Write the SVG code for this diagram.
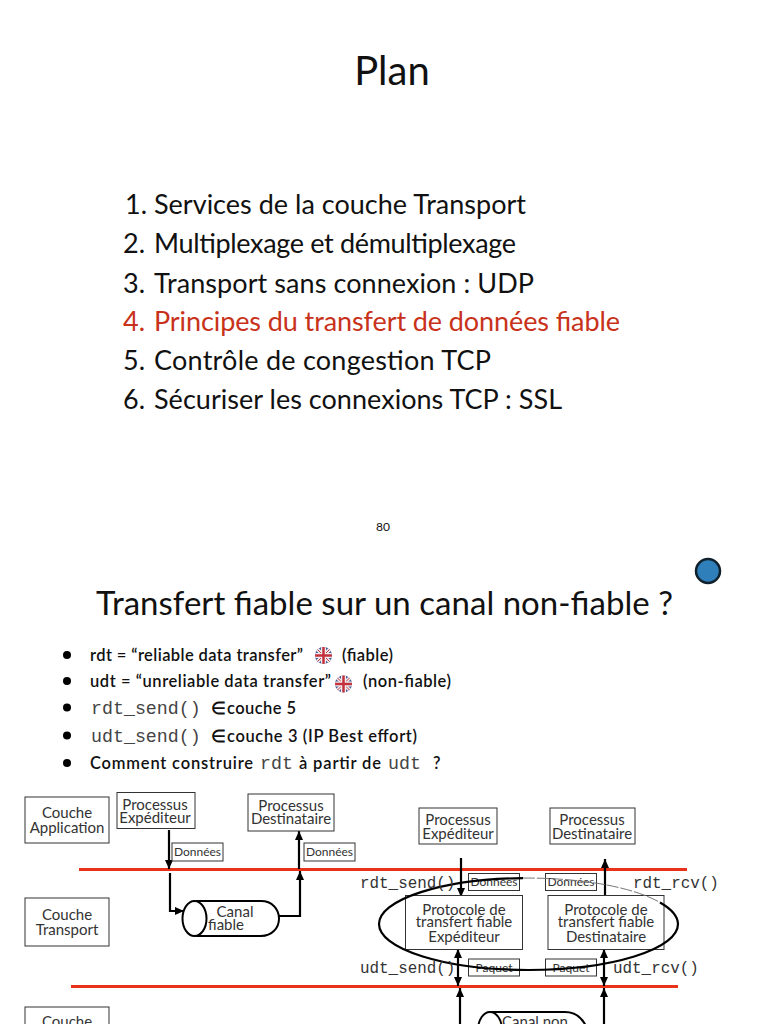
<svg xmlns="http://www.w3.org/2000/svg" width="768" height="1024" viewBox="0 0 768 1024">
<defs>
<marker id="ah" markerUnits="userSpaceOnUse" markerWidth="10" markerHeight="10" refX="9" refY="4.5" orient="auto"><path d="M0 0.500L9 4.500L0 8.500Z" fill="#000"/></marker>
<marker id="ahs" markerUnits="userSpaceOnUse" markerWidth="10" markerHeight="10" refX="0" refY="4.5" orient="auto"><path d="M9 0.500L0 4.500L9 8.500Z" fill="#000"/></marker>
<clipPath id="f1"><circle cx="323.500" cy="655.500" r="8.500"/></clipPath>
<clipPath id="f2"><circle cx="343.500" cy="684" r="8.500"/></clipPath>
<g id="jack"><rect x="-9" y="-9" width="18" height="18" fill="#4a5a92"/><path d="M-9 -9L9 9M9 -9L-9 9" stroke="#eee" stroke-width="3.500"/><path d="M-9 -9L9 9M9 -9L-9 9" stroke="#c4303c" stroke-width="1"/><path d="M-9 0H9M0 -9V9" stroke="#eee" stroke-width="5"/><path d="M-9 0H9M0 -9V9" stroke="#c4303c" stroke-width="2.500"/></g>
</defs>
<style>
text{font-family:"Lato","Open Sans","Liberation Sans",sans-serif;fill:#111}
.title{font-size:40px;text-anchor:middle}
.list{font-size:27px}
.bd{font-size:16.5px;font-weight:600}
.mono{font-family:"Liberation Mono",monospace;font-size:18.3px;fill:#444}
.monol{font-family:"Liberation Mono",monospace;font-size:15.9px;fill:#333}
.lb{font-size:15px;text-anchor:middle;fill:#333}
.sm{font-size:12px;text-anchor:middle;fill:#333}
.box{fill:#fff;stroke:#333;stroke-width:1}
.red{stroke:#e8321a;stroke-width:3;fill:none}
.ar{stroke:#000;stroke-width:2.200;fill:none}
.bu{fill:#000}
</style>
<rect width="768" height="1024" fill="#fff"/>
<text class="title" x="392" y="85">Plan</text>
<g class="list">
<text x="125" y="214">1.</text><text x="154" y="214" textLength="372">Services de la couche Transport</text>
<text x="123" y="253">2.</text><text x="154" y="253" textLength="362">Multiplexage et démultiplexage</text>
<text x="123" y="293">3.</text><text x="154" y="293" textLength="380">Transport sans connexion : UDP</text>
<text x="123" y="331" style="fill:#c8321a">4.</text><text x="154" y="331" style="fill:#c8321a" textLength="466">Principes du transfert de données fiable</text>
<text x="123" y="370">5.</text><text x="154" y="370" textLength="337">Contrôle de congestion TCP</text>
<text x="123" y="409">6.</text><text x="154" y="409" textLength="408">Sécuriser les connexions TCP : SSL</text>
</g>
<text x="383" y="531" font-size="12" text-anchor="middle">80</text>
<circle cx="708" cy="571" r="12" fill="#2f7fba" stroke="#10202c" stroke-width="2.500"/>
<text x="96" y="615" font-size="33" textLength="577">Transfert fiable sur un canal non-fiable ?</text>
<g>
<circle class="bu" cx="67" cy="655" r="4"/><circle class="bu" cx="67" cy="681" r="4"/><circle class="bu" cx="67" cy="707.500" r="4"/><circle class="bu" cx="67" cy="735.500" r="4"/><circle class="bu" cx="67" cy="763" r="4"/>
<text class="bd" x="90" y="661" textLength="213">rdt = “reliable data transfer”</text>
<g clip-path="url(#f1)"><use href="#jack" x="323.500" y="655.500"/></g>
<text class="bd" x="342" y="661" textLength="51">(fiable)</text>
<text class="bd" x="90" y="687" textLength="241">udt = “unreliable data transfer”</text>
<g clip-path="url(#f2)"><use href="#jack" x="343.500" y="684"/></g>
<text class="bd" x="363" y="687" textLength="88">(non-fiable)</text>
<text class="mono" x="91" y="714">rdt_send()</text><text class="bd" x="211" y="714">∈</text><text class="bd" x="227" y="714" textLength="69">couche 5</text>
<text class="mono" x="91" y="742">udt_send()</text><text class="bd" x="211" y="742">∈</text><text class="bd" x="227" y="742" textLength="190">couche 3 (IP Best effort)</text>
<text class="bd" x="90" y="769" textLength="163">Comment construire</text><text class="mono" x="260" y="769">rdt</text><text class="bd" x="299" y="769" textLength="82">à partir de</text><text class="mono" x="388" y="769">udt</text><text class="bd" x="433" y="769">?</text>
</g>
<g id="connectors">
<path class="red" d="M79 869.500H687"/>
<path class="red" d="M71 986.500H678"/>
<path class="ar" d="M169 830V869" marker-end="url(#ah)"/>
<path class="ar" d="M170 873V911H184" marker-end="url(#ah)"/>
<path class="ar" d="M299 869V831" marker-end="url(#ah)"/>
<path class="ar" d="M279 916H300V871" marker-end="url(#ah)"/>
<path class="ar" d="M461 858V897" marker-end="url(#ah)"/>
<path class="ar" d="M605 897V859" marker-end="url(#ah)"/>
<path class="ar" d="M458 949V986" marker-start="url(#ahs)" marker-end="url(#ah)"/>
<path class="ar" d="M604 949V986" marker-start="url(#ahs)" marker-end="url(#ah)"/>
<path class="ar" d="M460 1024V988" marker-end="url(#ah)"/>
<path class="ar" d="M604 1024V988" marker-end="url(#ah)"/>
</g>
<g id="couche-app"><rect class="box" x="25" y="797" width="84" height="46"/><text class="lb" x="67" y="818">Couche</text><text class="lb" x="67" y="833">Application</text></g>
<g id="couche-tr"><rect class="box" x="25" y="898" width="84" height="48"/><text class="lb" x="67" y="920">Couche</text><text class="lb" x="67" y="935">Transport</text></g>
<g id="couche-res"><rect class="box" x="25" y="1007" width="84" height="30"/><text class="lb" x="67" y="1027">Couche</text></g>
<g id="p-exp"><rect class="box" x="117" y="792.500" width="78" height="36"/><text class="lb" x="155" y="810">Processus</text><text class="lb" x="155" y="823">Expéditeur</text></g>
<g id="p-dest"><rect class="box" x="248" y="794" width="86" height="37"/><text class="lb" x="291" y="811">Processus</text><text class="lb" x="291" y="824">Destinataire</text></g>
<g id="d1"><rect class="box" x="172" y="843" width="51" height="18"/><text class="sm" x="197.500" y="856">Données</text></g>
<g id="d2"><rect class="box" x="304" y="843" width="51" height="18"/><text class="sm" x="329.500" y="856">Données</text></g>
<g id="canal1"><path d="M196 901H261C272 901 279 909 279 918.500S272 936 261 936H196" fill="#fff" stroke="#000" stroke-width="2"/><ellipse cx="194.500" cy="918.500" rx="12" ry="17.500" fill="#fff" stroke="#000" stroke-width="2"/><text class="lb" x="235" y="917">Canal</text><text class="lb" x="226" y="930">fiable</text></g>
<g id="p-exp2"><rect class="box" x="419" y="808" width="78" height="36"/><text class="lb" x="458" y="825">Processus</text><text class="lb" x="458" y="839">Expéditeur</text></g>
<g id="p-dest2"><rect class="box" x="550" y="808" width="85" height="36"/><text class="lb" x="592" y="825">Processus</text><text class="lb" x="592" y="839">Destinataire</text></g>
<g id="prot1"><rect class="box" x="405.500" y="895.500" width="117" height="54"/><text class="lb" x="464" y="915">Protocole de</text><text class="lb" x="464" y="927">transfert fiable</text><text class="lb" x="464" y="942">Expéditeur</text></g>
<g id="prot2"><rect class="box" x="548" y="895.500" width="116" height="54"/><text class="lb" x="606" y="915">Protocole de</text><text class="lb" x="606" y="927">transfert fiable</text><text class="lb" x="606" y="942">Destinataire</text></g>
<g id="d3"><rect class="box" x="468.500" y="873.500" width="51" height="17"/><text class="sm" x="494" y="886">Données</text></g>
<g id="d4"><rect class="box" x="545.500" y="873.500" width="51" height="17"/><text class="sm" x="571" y="886">Données</text></g>
<g id="p1"><rect class="box" x="468.500" y="959" width="51" height="17"/><text class="sm" x="494" y="972">Paquet</text></g>
<g id="p2"><rect class="box" x="545.500" y="959" width="51" height="17"/><text class="sm" x="571" y="972">Paquet</text></g>
<g id="halo" fill="none">
<path d="M523 878.100A149.500 46 0 0 1 660 902.500" stroke="#777" stroke-width="1" stroke-dasharray="12 2"/>
<path d="M523 878.100A149.500 46 0 0 0 379 924A149.500 46 0 0 0 528.500 970A149.500 46 0 0 0 678 924A149.500 46 0 0 0 660 902.500" stroke="#000" stroke-width="2.200"/>
</g>
<text class="monol" x="360" y="888">rdt_send()</text>
<text class="monol" x="633" y="888">rdt_rcv()</text>
<text class="monol" x="360" y="973">udt_send()</text>
<text class="monol" x="613" y="973">udt_rcv()</text>
<g id="canal2"><path d="M490 1012H565C575 1012 582 1018 586 1026V1045H490Z" fill="#fff" stroke="#000" stroke-width="2"/><ellipse cx="490" cy="1030" rx="12" ry="18" fill="#fff" stroke="#000" stroke-width="2"/><text class="lb" x="535" y="1027">Canal non</text></g>
</svg>
